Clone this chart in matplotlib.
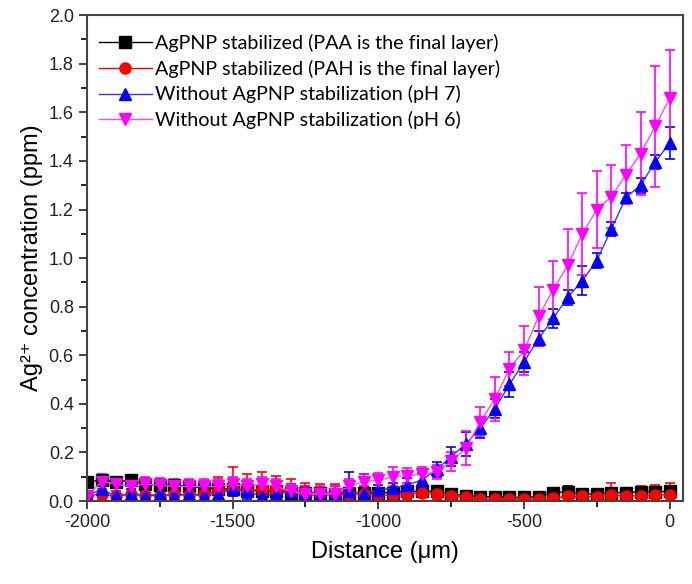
import numpy as np
import matplotlib
matplotlib.use("Agg")
import matplotlib.pyplot as plt
from matplotlib.ticker import MultipleLocator

distance = list(range(-2000, 1, 50))

paa = [0.080, 0.085, 0.080, 0.085, 0.070, 0.065, 0.065, 0.060, 0.055, 0.050,
       0.050, 0.045, 0.040, 0.040, 0.035, 0.035, 0.035, 0.030, 0.035, 0.035,
       0.035, 0.035, 0.040, 0.040, 0.040, 0.030, 0.022, 0.018, 0.018, 0.015,
       0.015, 0.018, 0.035, 0.038, 0.028, 0.030, 0.035, 0.035, 0.038, 0.038, 0.040]
paa_err = [0.010, 0.010, 0.010, 0.010, 0.010, 0.010, 0.010, 0.010, 0.010, 0.010,
           0.010, 0.010, 0.010, 0.010, 0.010, 0.010, 0.010, 0.010, 0.010, 0.010,
           0.010, 0.010, 0.010, 0.010, 0.010, 0.008, 0.006, 0.006, 0.006, 0.006,
           0.006, 0.006, 0.020, 0.022, 0.010, 0.010, 0.010, 0.010, 0.010, 0.010, 0.010]

pah = [0.020, 0.030, 0.020, 0.030, 0.025, 0.020, 0.030, 0.025, 0.030, 0.040,
       0.050, 0.040, 0.050, 0.045, 0.040, 0.035, 0.030, 0.030, 0.025, 0.030,
       0.025, 0.025, 0.030, 0.035, 0.030, 0.020, 0.015, 0.010, 0.008, 0.008,
       0.008, 0.008, 0.012, 0.020, 0.020, 0.018, 0.025, 0.020, 0.022, 0.025, 0.025]
pah_err = [0.020, 0.020, 0.020, 0.020, 0.020, 0.020, 0.020, 0.020, 0.030, 0.060,
           0.090, 0.070, 0.070, 0.060, 0.050, 0.040, 0.040, 0.040, 0.030, 0.030,
           0.020, 0.020, 0.020, 0.020, 0.020, 0.015, 0.010, 0.010, 0.008, 0.008,
           0.008, 0.008, 0.015, 0.030, 0.030, 0.030, 0.050, 0.030, 0.040, 0.040, 0.050]

ph7 = [0.020, 0.050, 0.020, 0.030, 0.020, 0.030, 0.020, 0.030, 0.020, 0.030,
       0.050, 0.040, 0.020, 0.030, 0.040, 0.030, 0.020, 0.030, 0.040, 0.030,
       0.046, 0.053, 0.067, 0.087, 0.130, 0.183, 0.235, 0.300, 0.380, 0.480,
       0.573, 0.668, 0.752, 0.839, 0.907, 0.990, 1.120, 1.250, 1.300, 1.395, 1.474]
ph7_err = [0.020, 0.020, 0.020, 0.020, 0.020, 0.020, 0.020, 0.020, 0.020, 0.020,
           0.030, 0.030, 0.020, 0.020, 0.030, 0.030, 0.020, 0.030, 0.080, 0.080,
           0.020, 0.020, 0.030, 0.030, 0.030, 0.040, 0.050, 0.040, 0.040, 0.050,
           0.040, 0.030, 0.040, 0.030, 0.060, 0.030, 0.030, 0.020, 0.030, 0.030, 0.065]

ph6 = [0.020, 0.080, 0.070, 0.060, 0.070, 0.065, 0.060, 0.060, 0.060, 0.060,
       0.070, 0.060, 0.070, 0.060, 0.040, 0.030, 0.030, 0.030, 0.060, 0.080,
       0.085, 0.100, 0.105, 0.110, 0.120, 0.163, 0.217, 0.327, 0.420, 0.545,
       0.620, 0.760, 0.870, 0.970, 1.100, 1.200, 1.253, 1.344, 1.430, 1.542, 1.658]
ph6_err = [0.020, 0.030, 0.030, 0.030, 0.030, 0.030, 0.030, 0.030, 0.030, 0.030,
           0.030, 0.030, 0.030, 0.030, 0.030, 0.030, 0.030, 0.030, 0.030, 0.030,
           0.030, 0.040, 0.030, 0.030, 0.030, 0.040, 0.070, 0.060, 0.090, 0.070,
           0.100, 0.120, 0.120, 0.150, 0.170, 0.160, 0.130, 0.120, 0.170, 0.250, 0.200]

labels = ["AgPNP stabilized (PAA is the final layer)",
          "AgPNP stabilized (PAH is the final layer)",
          "Without AgPNP stabilization (pH 7)",
          "Without AgPNP stabilization (pH 6)"]

plt.rcParams['font.family'] = ['Liberation Sans', 'DejaVu Sans']
plt.rcParams['axes.unicode_minus'] = False

fig = plt.figure(figsize=(6.92, 5.84), dpi=100)
ax = fig.add_axes([0.1257, 0.142, 0.861, 0.832])

series = [
    (paa, paa_err, 's', 'black', 'black'),
    (pah, pah_err, 'o', 'red', 'red'),
    (ph7, ph7_err, '^', 'blue', '#3333ff'),
    (ph6, ph6_err, 'v', 'magenta', '#ff44ff'),
]
handles = []
for (y, e, m, c, lc), lab in zip(series, labels):
    h = ax.errorbar(distance, y, yerr=e, fmt='-', marker=m, color=lc,
                    mfc=c, mec=c, ms=8, lw=1.0, ecolor=c, elinewidth=1.2,
                    capsize=3.5, capthick=1.2, label=lab)
    handles.append(h[0])

ax.set_xlim(-2000, 45)
ax.set_ylim(0, 2.0)
ax.xaxis.set_major_locator(MultipleLocator(500))
ax.xaxis.set_minor_locator(MultipleLocator(250))
ax.yaxis.set_major_locator(MultipleLocator(0.2))
ax.yaxis.set_minor_locator(MultipleLocator(0.1))
ax.yaxis.set_major_formatter(matplotlib.ticker.FormatStrFormatter('%.1f'))
ax.tick_params(axis='both', which='major', direction='out', length=6, width=1.2,
               labelsize=13, colors='#222222', top=False, right=False)
ax.tick_params(axis='both', which='minor', direction='out', length=4, width=1.2,
               top=False, right=False)
for s in ax.spines.values():
    s.set_linewidth(1.5)
    s.set_color('#444444')

ax.set_xlabel('Distance (\u03bcm)', fontsize=17, labelpad=7)
ax.set_ylabel('Ag\u00b2\u207a concentration (ppm)', fontsize=17, labelpad=4)

leg = ax.legend(handles=handles, labels=labels, loc='upper left',
                bbox_to_anchor=(0.0, 0.985), frameon=False,
                prop={'family': 'Lato', 'size': 14.2},
                handlelength=2.7, handletextpad=0.15, labelspacing=0.38,
                borderaxespad=0.2)

fig.savefig('out.png', dpi=100)
